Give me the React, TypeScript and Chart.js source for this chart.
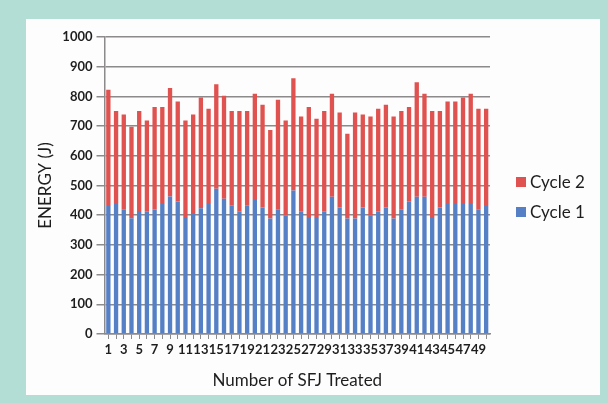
import React, { useEffect, useRef } from 'react';
import { Chart, registerables } from 'chart.js';

Chart.register(...registerables);

const categories: string[] = [
  '1', '2', '3', '4', '5', '6', '7', '8', '9', '10',
  '11', '12', '13', '14', '15', '16', '17', '18', '19', '20',
  '21', '22', '23', '24', '25', '26', '27', '28', '29', '30',
  '31', '32', '33', '34', '35', '36', '37', '38', '39', '40',
  '41', '42', '43', '44', '45', '46', '47', '48', '49', '50',
];

const cycle1: number[] = [
  431, 438, 420, 390, 414, 412, 419, 438, 463, 446,
  394, 404, 423, 438, 489, 455, 432, 412, 432, 451,
  426, 389, 420, 399, 483, 412, 394, 394, 412, 462,
  426, 389, 389, 426, 400, 412, 426, 389, 420, 445,
  462, 462, 394, 426, 438, 438, 438, 438, 420, 431,
];

const cycle2: number[] = [
  391, 313, 319, 308, 337, 307, 345, 326, 365, 337,
  325, 335, 373, 320, 352, 347, 319, 339, 319, 358,
  346, 298, 369, 320, 378, 320, 370, 331, 339, 347,
  320, 285, 357, 313, 332, 346, 346, 343, 331, 319,
  386, 347, 357, 325, 345, 345, 358, 371, 338, 327,
];

const yMin = 0;
const yMax = 1000;
const yStep = 100;

const seriesNames = ['Cycle 1', 'Cycle 2'];
const xTitle = 'Number of SFJ Treated';
const yTitle = 'ENERGY (J)';

const RED = '#e0524f';
const BLUE = '#5680c6';
const GRID = '#8c8a8a';
const TEXT = '#1e1e1e';
const FONT = 'Lato, "Open Sans", "Noto Sans", sans-serif';

const sideLegend = {
  id: 'sideLegend',
  afterDraw(chart: any) {
    const { ctx, chartArea } = chart;
    const items = [...chart.data.datasets].reverse();
    const cy = (chartArea.top + chartArea.bottom) / 2 + 11.5;
    ctx.save();
    ctx.font = `17px ${FONT}`;
    ctx.textBaseline = 'middle';
    ctx.textAlign = 'left';
    items.forEach((ds: any, i: number) => {
      const y = cy - 15 + i * 30;
      ctx.fillStyle = ds.backgroundColor;
      ctx.fillRect(chartArea.right + 26, y - 5, 10, 10);
      ctx.fillStyle = TEXT;
      ctx.fillText(ds.label, chartArea.right + 40, y + 1);
    });
    ctx.restore();
  },
};

export default function App() {
  const ref = useRef<HTMLCanvasElement | null>(null);

  useEffect(() => {
    if (!ref.current) return;
    const chart = new Chart(ref.current, {
      type: 'bar',
      data: {
        labels: categories,
        datasets: [
          { label: seriesNames[0], data: cycle1, backgroundColor: BLUE, borderWidth: 0 },
          { label: seriesNames[1], data: cycle2, backgroundColor: RED, borderWidth: 0 },
        ],
      },
      plugins: [sideLegend],
      options: {
        animation: false,
        responsive: false,
        maintainAspectRatio: false,
        layout: { padding: { top: 37, right: 118, left: 0, bottom: 0 } },
        datasets: { bar: { categoryPercentage: 1, barPercentage: 0.56 } } as any,
        plugins: {
          legend: { display: false },
          tooltip: { enabled: false },
        },
        scales: {
          x: {
            stacked: true,
            grid: {
              display: true,
              drawOnChartArea: false,
              drawTicks: true,
              tickLength: 5,
              offset: false,
              color: GRID,
              lineWidth: 1,
            },
            border: { color: GRID, width: 1.5 },
            ticks: {
              autoSkip: false,
              maxRotation: 0,
              minRotation: 0,
              padding: 3,
              color: TEXT,
              font: { family: FONT, size: 13, weight: 'bold' },
              callback: (_v: any, i: number) => (i % 2 === 0 ? categories[i] : ''),
            },
            title: {
              display: true,
              text: xTitle,
              color: TEXT,
              font: { family: FONT, size: 17 },
              padding: { top: 0, bottom: 12 },
            },
            afterFit: (s: any) => {
              s.height = 69;
            },
          },
          y: {
            stacked: true,
            min: yMin,
            max: yMax,
            ticks: {
              stepSize: yStep,
              padding: 4,
              color: TEXT,
              font: { family: FONT, size: 13, weight: 'bold' },
              callback: (v: any) => String(v),
            },
            grid: { color: GRID, lineWidth: 1.5, tickLength: 8 },
            border: { color: GRID, width: 1.5 },
            title: {
              display: true,
              text: yTitle,
              color: TEXT,
              font: { family: FONT, size: 17 },
              padding: { top: 35, bottom: 0 },
            },
            afterFit: (s: any) => {
              s.width = 104.5;
            },
          },
        },
      } as any,
    });
    return () => chart.destroy();
  }, []);

  return (
    <div style={{ position: 'fixed', left: 0, top: 0, width: 608, height: 403, background: '#b3ded5' }}>
      <div style={{ position: 'absolute', left: 26, top: 19, width: 574, height: 376, background: '#fdfdfd' }} />
      <canvas ref={ref} width={608} height={403} style={{ position: 'absolute', left: 0, top: 0 }} />
    </div>
  );
}
